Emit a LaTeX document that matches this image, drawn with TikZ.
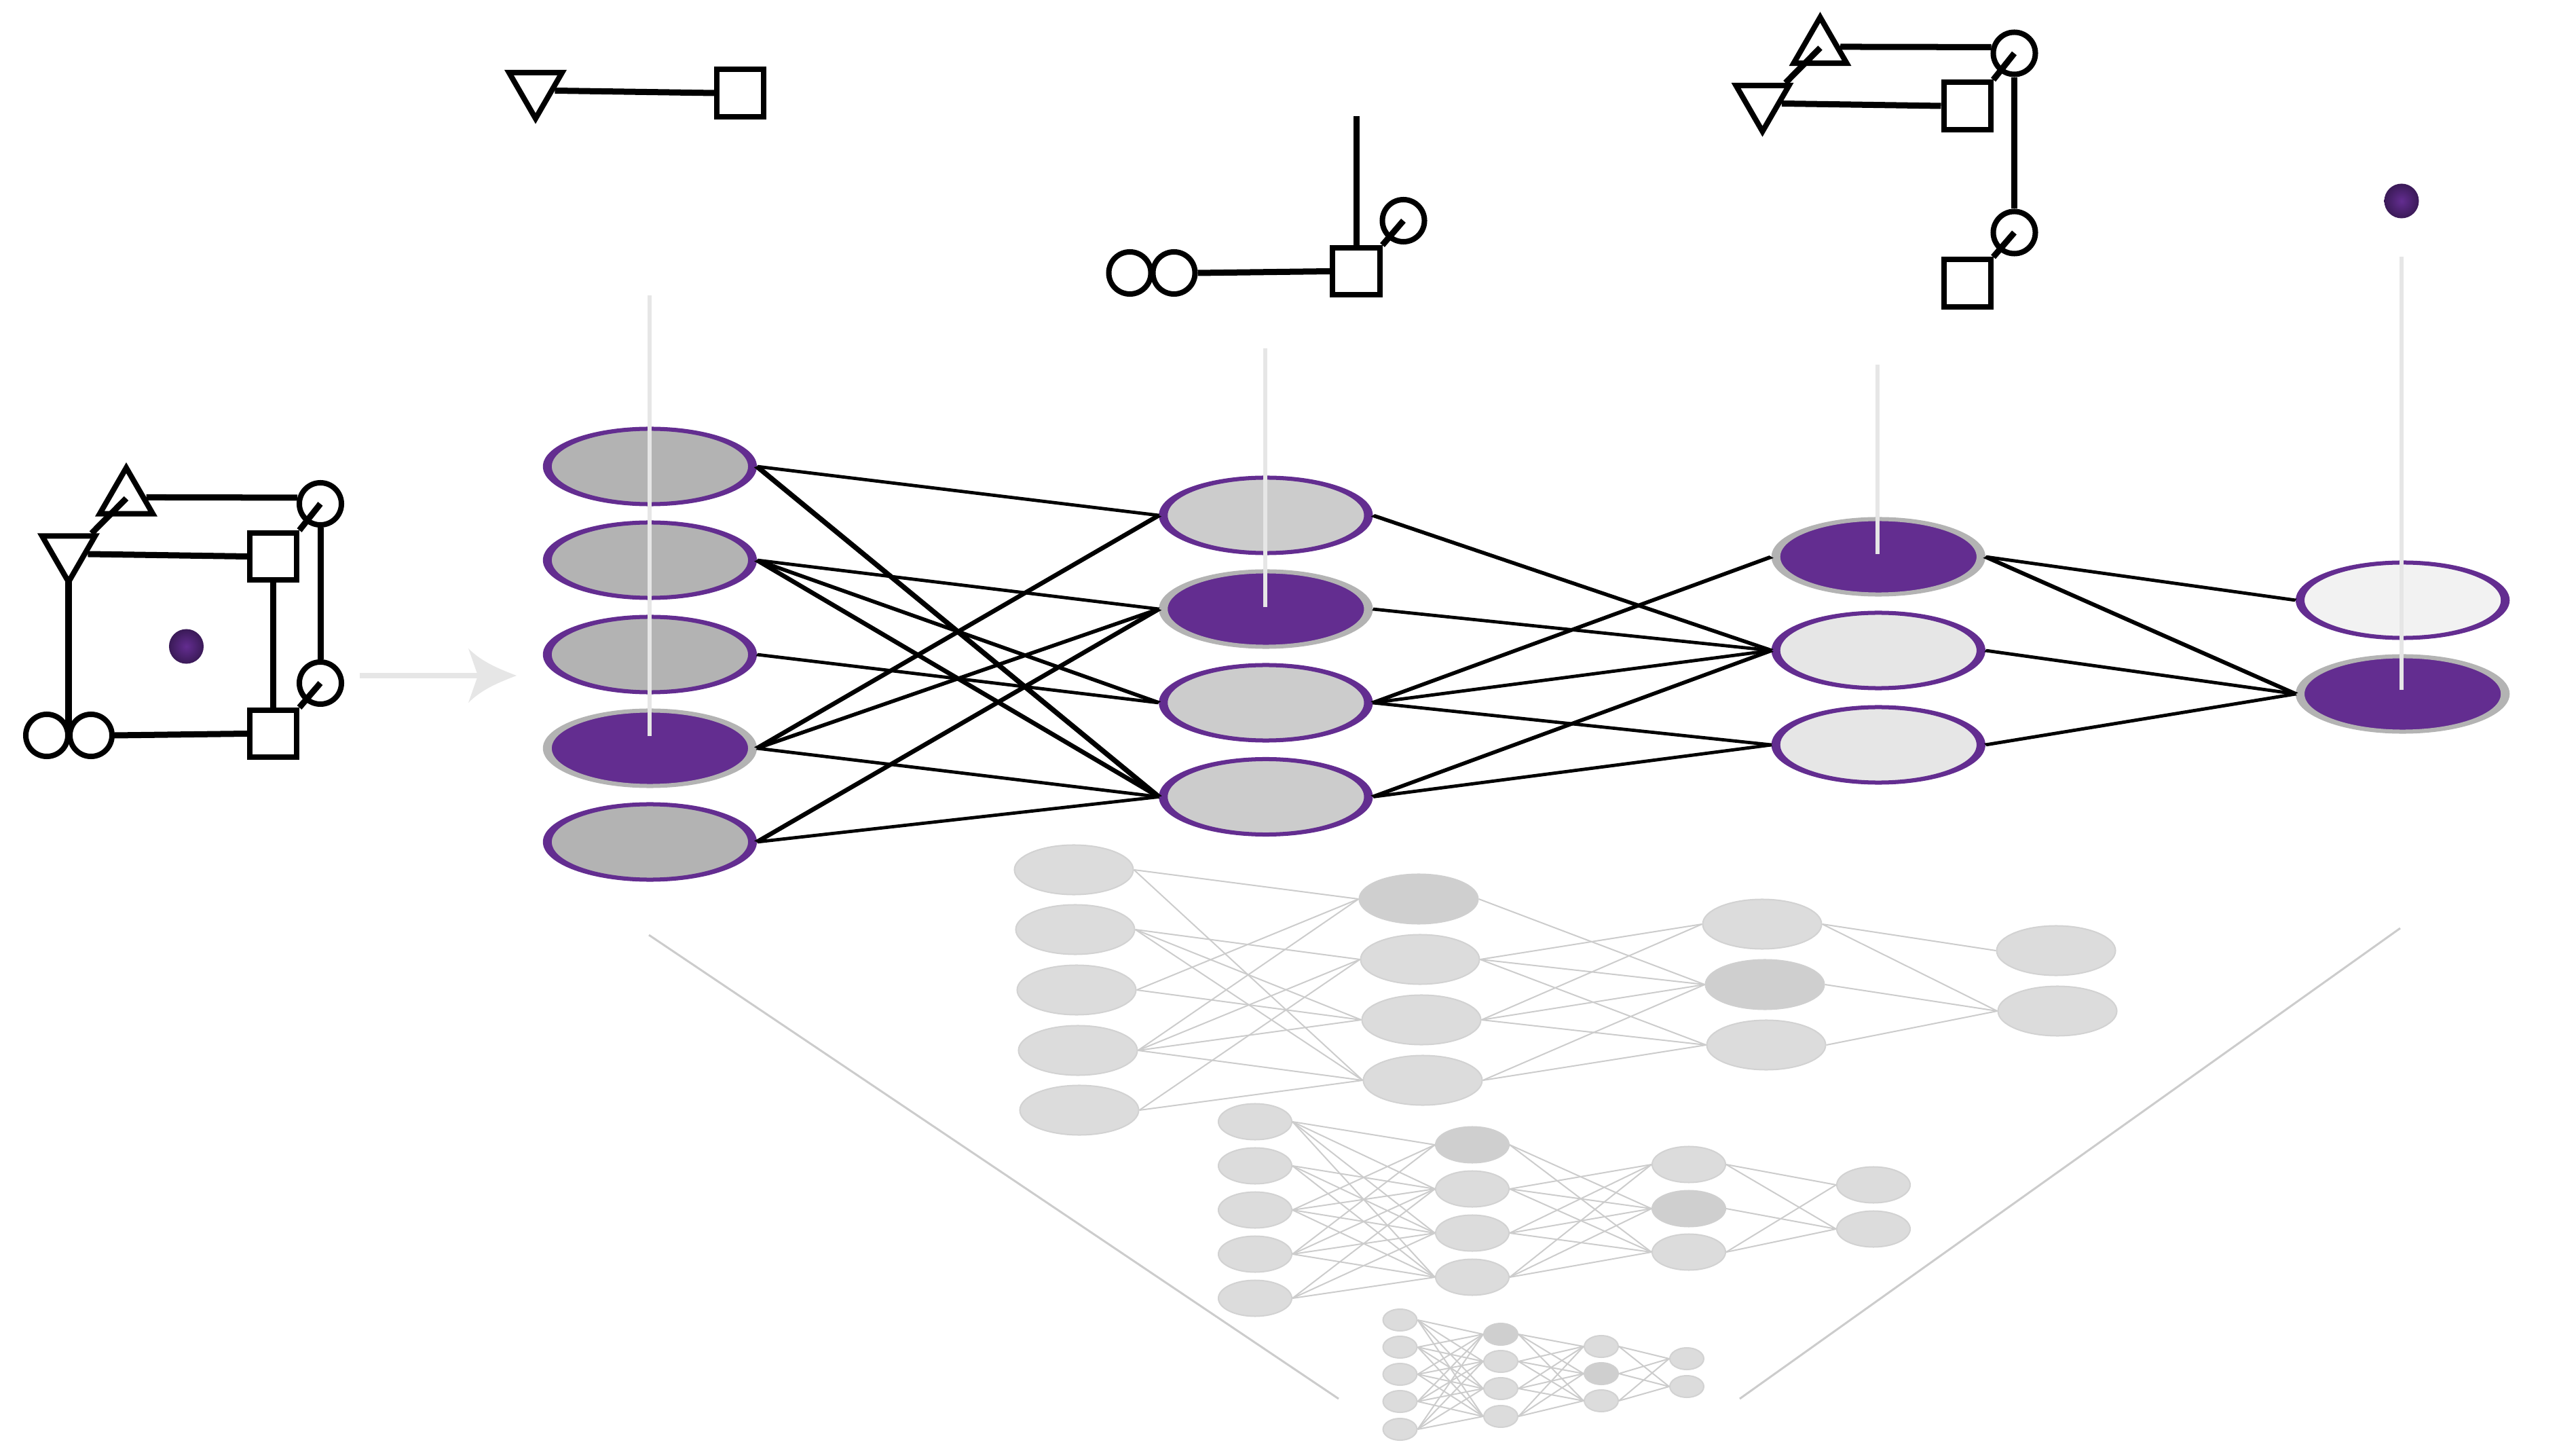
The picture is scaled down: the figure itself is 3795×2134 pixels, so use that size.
\documentclass[tikz,border=0pt]{standalone}
\usetikzlibrary{shapes.geometric}

\definecolor{netpurple}{HTML}{632D90}
\definecolor{balldark}{HTML}{3A1A57}
\definecolor{ringgray}{HTML}{B3B3B3}
\definecolor{lightline}{HTML}{E6E6E6}
\definecolor{fadefill}{HTML}{DCDCDC}
\definecolor{fadedark}{HTML}{CFCFCF}
\definecolor{fadeline}{HTML}{CCCCCC}

\tikzset{
  glyphline/.style={line width=0.09cm},
  triup/.style={regular polygon, regular polygon sides=3, draw, inner sep=0pt, minimum size=0.9cm, line width=0.08cm},
  tridown/.style={triup, regular polygon rotate=180},
  circnode/.style={circle, draw, inner sep=0pt, minimum size=0.62cm, line width=0.08cm},
  sqnode/.style={rectangle, draw, inner sep=0pt, minimum size=0.69cm, line width=0.08cm},
  ballnode/.style={circle, inner sep=0pt, minimum size=0.51cm, inner color=netpurple, outer color=balldark},
  mainnode/.style={ellipse, inner sep=0pt, minimum width=1.392cm, minimum height=1.11cm, line width=0.06cm},
  offnode/.style={mainnode, draw=netpurple},
  onnode/.style={mainnode, draw=ringgray, fill=netpurple},
  mainedge/.style={line width=0.047cm},
  guide/.style={draw=lightline, line width=0.06cm},
  fadenode/.style={ellipse, inner sep=0pt, fill=fadefill, draw=fadedark!80!fadefill, line width=0.02cm},
  fadeon/.style={fill=fadedark, draw=fadedark},
  bignode/.style={fadenode, minimum width=1.75cm, minimum height=0.73cm},
  midnode/.style={fadenode, minimum width=1.08cm, minimum height=0.53cm},
  tinynode/.style={fadenode, minimum width=0.5cm, minimum height=0.32cm},
  fadeedge/.style={draw=fadeline, line width=0.02cm},
}

\begin{document}
\begin{tikzpicture}[x=0.01cm,y=-0.01cm]
\useasboundingbox (0,0) rectangle (3795,2134);

% the full cube
\node[triup] (triA) at (186,734) {};
\node[tridown] (triB) at (101,812) {};
\node[circnode] (circA) at (472,742) {};
\node[circnode] (circB) at (472,1006) {};
\node[circnode] (circC) at (69,1083) {};
\node[circnode] (circD) at (134,1083) {};
\node[sqnode] (sqA) at (402.5,819.5) {};
\node[sqnode] (sqB) at (402.5,1080.5) {};
\node[ballnode] (ballA) at (274.5,952) {};
\draw[glyphline] (triA.3) -- (circA.165);
\draw[glyphline] (triB.-8) -- (sqA.west);
\draw[glyphline] ([yshift=0.14cm]triB.270) -- (triB.270 |- circC.center);
\draw[glyphline] (circD.0) -- (sqB.west);
\draw[glyphline] (sqA.south) -- (sqB.north);
\draw[glyphline] (circA.south) -- (circB.north);
\draw[glyphline] (triB.38) -- (triA.center);
\draw[glyphline] (sqA.north east) -- (circA.center);
\draw[glyphline] (sqB.north east) -- (circB.center);

% arrow to the network
\coordinate (arrowstart) at (530,995);
\coordinate (arrownotch) at (704,995);
\draw[draw=lightline, line width=0.08cm] (arrowstart) -- (arrownotch);
\fill[lightline] (690,955) .. controls (710,975) and (735,985) .. (761,995)
  .. controls (735,1005) and (710,1015) .. (690,1035) -- (arrownotch) -- cycle;

% pieces above the layers
\begin{scope}[shift={(688,-682.5)}]
\node[tridown] (triB1) at (101,812) {};
\node[sqnode] (sqA1) at (402.5,819.5) {};
\draw[glyphline] (triB1.-8) -- (sqA1.west);
\end{scope}

\begin{scope}[shift={(1595.5,-681)}]
\node[circnode] (circB2) at (472,1006) {};
\node[circnode] (circC2) at (69,1083) {};
\node[circnode] (circD2) at (134,1083) {};
\node[sqnode] (sqB2) at (402.5,1080.5) {};
\coordinate (stub2) at (402.5,852);
\draw[glyphline] (circD2.0) -- (sqB2.west);
\draw[glyphline] (stub2) -- (sqB2.north);
\draw[glyphline] (sqB2.north east) -- (circB2.center);
\end{scope}

\begin{scope}[shift={(2495.5,-663.5)}]
\node[triup] (triA3) at (186,734) {};
\node[tridown] (triB3) at (101,812) {};
\node[circnode] (circA3) at (472,742) {};
\node[circnode] (circB3) at (472,1006) {};
\node[sqnode] (sqA3) at (402.5,819.5) {};
\node[sqnode] (sqB3) at (402.5,1080.5) {};
\draw[glyphline] (triA3.3) -- (circA3.165);
\draw[glyphline] (triB3.-8) -- (sqA3.west);
\draw[glyphline] (circA3.south) -- (circB3.north);
\draw[glyphline] (triB3.38) -- (triA3.center);
\draw[glyphline] (sqA3.north east) -- (circA3.center);
\draw[glyphline] (sqB3.north east) -- (circB3.center);
\end{scope}

\node[ballnode] (ballD) at (3538,296) {};

% main network, stretched sideways
\begin{scope}[transform canvas={xscale=2.17},x=0.004608cm]
\node[offnode, fill=ringgray] (a1) at (957,687) {};
\node[offnode, fill=ringgray] (a2) at (957,825) {};
\node[offnode, fill=ringgray] (a3) at (957,964) {};
\node[onnode] (a4) at (957,1102) {};
\node[offnode, fill=ringgray] (a5) at (957,1240) {};
\node[offnode, fill=black!20] (b1) at (1864,759) {};
\node[onnode] (b2) at (1864,897) {};
\node[offnode, fill=black!20] (b3) at (1864,1035) {};
\node[offnode, fill=black!20] (b4) at (1864,1173.5) {};
\node[onnode] (c1) at (2766,820) {};
\node[offnode, fill=lightline] (c2) at (2766,958) {};
\node[offnode, fill=lightline] (c3) at (2766,1097) {};
\node[offnode, fill=black!5] (d1) at (3538,884) {};
\node[onnode] (d2) at (3538,1022) {};
\foreach \from/\to in {a1/b1,a1/b4,a2/b2,a2/b3,a2/b4,a3/b3,a4/b1,a4/b2,a4/b4,a5/b2,a5/b4,
    b1/c2,b2/c2,b3/c1,b3/c2,b3/c3,b4/c2,b4/c3,c1/d1,c1/d2,c2/d2,c3/d2}
  \draw[mainedge] (\from.east) -- (\to.west);
\end{scope}

% light lines from the pieces into the layers
\coordinate (guideA) at (957,435);
\coordinate (guideAend) at (957,1084);
\coordinate (guideB) at (1864,513);
\coordinate (guideBend) at (1864,894);
\coordinate (guideC) at (2766,537);
\coordinate (guideCend) at (2766,816);
\coordinate (guideD) at (3538,378);
\coordinate (guideDend) at (3538,1016);
\draw[guide] (guideA) -- (guideAend);
\draw[guide] (guideB) -- (guideBend);
\draw[guide] (guideC) -- (guideCend);
\draw[guide] (guideD) -- (guideDend);

% funnel
\coordinate (funnelA) at (956,1377);
\coordinate (funnelB) at (1972,2060);
\coordinate (funnelC) at (3536,1367);
\coordinate (funnelD) at (2563,2060);
\draw[draw=fadeline, line width=0.03cm] (funnelA) -- (funnelB);
\draw[draw=fadeline, line width=0.03cm] (funnelC) -- (funnelD);

% big faded network
\node[bignode] (pa1) at (1582,1281) {};
\node[bignode] (pa2) at (1584,1369) {};
\node[bignode] (pa3) at (1586,1458) {};
\node[bignode] (pa4) at (1588,1547) {};
\node[bignode] (pa5) at (1590,1635) {};
\node[bignode, fadeon] (pb1) at (2090,1324) {};
\node[bignode] (pb2) at (2092,1413) {};
\node[bignode] (pb3) at (2094,1502) {};
\node[bignode] (pb4) at (2096,1591) {};
\node[bignode] (pc1) at (2596,1361) {};
\node[bignode, fadeon] (pc2) at (2600,1450) {};
\node[bignode] (pc3) at (2602,1539) {};
\node[bignode] (pd1) at (3029,1400) {};
\node[bignode] (pd2) at (3031,1489) {};
\foreach \from/\to in {pa1/pb1,pa1/pb4,pa2/pb2,pa2/pb3,pa2/pb4,pa3/pb1,pa3/pb3,pa4/pb1,pa4/pb2,pa4/pb3,pa4/pb4,pa5/pb2,pa5/pb4,
    pb1/pc2,pb2/pc1,pb2/pc2,pb2/pc3,pb3/pc1,pb3/pc2,pb3/pc3,pb4/pc2,pb4/pc3,pc1/pd1,pc1/pd2,pc2/pd2,pc3/pd2}
  \draw[fadeedge] (\from.east) -- (\to.west);

% middle faded network
\node[midnode] (qa1) at (1849,1652) {};
\node[midnode] (qa2) at (1849,1717) {};
\node[midnode] (qa3) at (1849,1782) {};
\node[midnode] (qa4) at (1849,1847) {};
\node[midnode] (qa5) at (1849,1912) {};
\node[midnode, fadeon] (qb1) at (2169,1686) {};
\node[midnode] (qb2) at (2169,1751) {};
\node[midnode] (qb3) at (2169,1816) {};
\node[midnode] (qb4) at (2169,1881) {};
\node[midnode] (qc1) at (2488,1715) {};
\node[midnode, fadeon] (qc2) at (2488,1780) {};
\node[midnode] (qc3) at (2488,1844) {};
\node[midnode] (qd1) at (2760,1745) {};
\node[midnode] (qd2) at (2760,1810) {};
\foreach \from/\to in {qa1/qb1,qa1/qb2,qa1/qb3,qa1/qb4,qa2/qb2,qa2/qb3,qa2/qb4,qa3/qb1,qa3/qb2,qa3/qb3,qa3/qb4,
    qa4/qb1,qa4/qb2,qa4/qb3,qa4/qb4,qa5/qb2,qa5/qb3,qa5/qb4,
    qb1/qc2,qb1/qc3,qb2/qc1,qb2/qc2,qb2/qc3,qb3/qc1,qb3/qc2,qb3/qc3,qb4/qc1,qb4/qc2,qb4/qc3,
    qc1/qd1,qc1/qd2,qc2/qd2,qc3/qd1,qc3/qd2}
  \draw[fadeedge] (\from.east) -- (\to.west);

% tiny faded network
\node[tinynode] (ra1) at (2062.5,1944) {};
\node[tinynode] (ra2) at (2062.5,1984) {};
\node[tinynode] (ra3) at (2062.5,2024) {};
\node[tinynode] (ra4) at (2062.5,2064) {};
\node[tinynode] (ra5) at (2062.5,2105) {};
\node[tinynode, fadeon] (rb1) at (2211,1965) {};
\node[tinynode] (rb2) at (2211,2005) {};
\node[tinynode] (rb3) at (2211,2045) {};
\node[tinynode] (rb4) at (2211,2086) {};
\node[tinynode] (rc1) at (2359,1983) {};
\node[tinynode, fadeon] (rc2) at (2359,2023) {};
\node[tinynode] (rc3) at (2359,2063) {};
\node[tinynode] (rd1) at (2485,2001) {};
\node[tinynode] (rd2) at (2485,2042) {};
\foreach \from in {ra1,ra2,ra3,ra4,ra5} \foreach \to in {rb1,rb2,rb3,rb4}
  \draw[fadeedge] (\from.east) -- (\to.west);
\foreach \from in {rb1,rb2,rb3,rb4} \foreach \to in {rc1,rc2,rc3}
  \draw[fadeedge] (\from.east) -- (\to.west);
\foreach \from in {rc1,rc2,rc3} \foreach \to in {rd1,rd2}
  \draw[fadeedge] (\from.east) -- (\to.west);
\end{tikzpicture}
\end{document}
